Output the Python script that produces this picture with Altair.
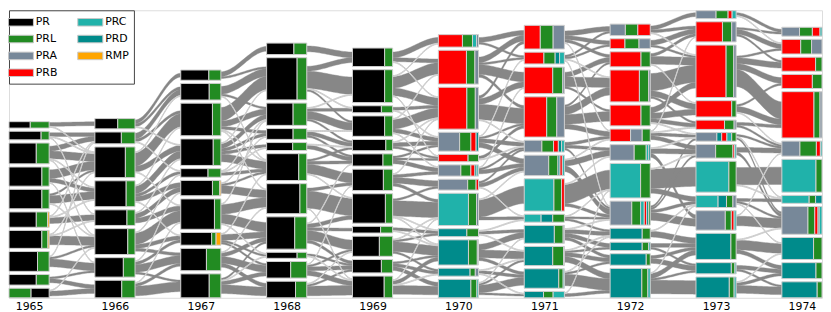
import altair as alt
import pandas as pd

YEARS = ["1965", "1966", "1967", "1968", "1969", "1970", "1971", "1972", "1973", "1974"]
GROUPS = ["PR", "PRL", "PRA", "PRB", "PRC", "PRD", "RMP"]
COLORS = {"PR": "#000000", "PRL": "#228B22", "PRA": "#778899", "PRB": "#FF0000",
          "PRC": "#20B2AA", "PRD": "#008B8B", "RMP": "#FFA500"}

# nodes per year, top to bottom: (size, composition share by group)
N1965 = [(6.7, "PR 53 PRL 47"), (9.0, "PR 80 PRL 20"), (21.7, "PR 68 PRL 32"),
         (20.0, "PR 82 PRL 18"), (20.3, "PR 82 PRL 18"), (16.0, "PR 68 PRL 28 RMP 4"),
         (18.7, "PR 81 PRL 15 RMP 3"), (20.7, "PR 71 PRL 29"), (11.0, "PR 68 PRL 32"),
         (10.0, "PRL 55 PR 45")]
N1966 = [(10.7, "PR 57 PRL 43"), (12.3, "PR 66 PRL 34"), (32.0, "PR 76 PRL 24"),
         (27.0, "PR 78 PRL 22"), (16.3, "PR 80 PRL 20"), (27.0, "PR 82 PRL 18"),
         (20.3, "PR 71 PRL 29"), (18.3, "PR 67 PRL 33")]
N1967 = [(10.7, "PR 70 PRL 30"), (17.3, "PR 71 PRL 29"), (34.0, "PR 79 PRL 21"),
         (27.7, "PR 81 PRL 19"), (9.0, "PR 68 PRL 32"), (16.0, "PR 79 PRL 18 RMP 3"),
         (31.7, "PR 84 PRL 16"), (13.3, "PR 77 PRL 11 RMP 12"), (23.3, "PR 64 PRL 36"),
         (25.0, "PR 71 PRL 29")]
N1968 = [(12.0, "PR 68 PRL 32"), (44.0, "PR 76 PRL 24"), (23.3, "PR 66 PRL 34"),
         (11.3, "PR 66 PRL 34"), (8.3, "PR 65 PRL 35"), (28.0, "PR 80 PRL 20"),
         (31.3, "PR 83 PRL 17"), (33.7, "PR 70 PRL 30"), (6.3, "PR 76 PRL 24"),
         (17.3, "PR 60 PRL 40"), (17.3, "PR 72 PRL 28")]
N1969 = [(19.3, "PR 80 PRL 20"), (34.3, "PR 80 PRL 20"), (7.3, "PR 72 PRL 28"),
         (21.3, "PR 80 PRL 20"), (11.7, "PR 83 PRL 17"), (12.7, "PR 76 PRL 24"),
         (22.3, "PR 77 PRL 23"), (30.7, "PR 82 PRL 18"), (7.0, "PR 70 PRL 30"),
         (21.0, "PR 67 PRL 33"), (14.0, "PR 72 PRL 28"), (22.7, "PR 79 PRL 21")]
N1970 = [(13.0, "PRB 60 PRL 25 PRC 10 PRA 5"), (35.3, "PRB 70 PRL 21 PRA 9"),
         (43.7, "PRB 71 PRL 21 PRA 8"), (19.7, "PRA 53 PRL 28 PRB 13 PRD 6"),
         (7.7, "PRB 74 PRL 26"), (11.7, "PRA 56 PRL 25 PRB 10 PRD 5 PRC 4"),
         (11.3, "PRA 73 PRL 21 PRB 6"), (33.7, "PRC 75 PRL 20 PRA 5"),
         (8.3, "PRD 71 PRL 29"), (26.3, "PRD 75 PRL 22 PRA 3"),
         (8.3, "PRD 79 PRL 13 PRA 8"), (19.3, "PRD 81 PRL 15 PRC 4")]
N1971 = [(24.7, "PRB 40 PRL 32 PRA 28"), (12.3, "PRB 49 PRL 28 PRD 11 PRC 12"),
         (27.7, "PRB 71 PRL 25 PRA 4"), (42.0, "PRB 56 PRL 25 PRA 19"),
         (12.3, "PRA 44 PRL 29 PRB 12 PRD 8 PRC 7"), (21.3, "PRA 61 PRL 23 PRD 5 PRB 6 PRC 5"),
         (33.7, "PRC 74 PRL 19 PRB 7"), (8.3, "PRC 42 PRD 29 PRL 29"),
         (18.7, "PRD 75 PRL 22 PRA 3"), (20.0, "PRD 71 PRL 27 PRA 2"),
         (20.3, "PRD 86 PRL 11 PRC 3"), (6.7, "PRD 48 PRL 24 PRC 28")]
N1972 = [(12.0, "PRA 38 PRL 31 PRB 31"), (10.3, "PRB 37 PRL 35 PRA 28"),
         (15.7, "PRB 77 PRL 23"), (33.3, "PRB 73 PRL 23 PRA 4"), (21.7, "PRB 77 PRL 23"),
         (13.0, "PRB 51 PRA 29 PRL 20"), (16.3, "PRA 60 PRL 30 PRC 6 PRD 4"),
         (36.0, "PRC 76 PRL 24"), (25.0, "PRA 54 PRL 22 PRC 9 PRB 6 PRD 5 PRL 4"),
         (11.3, "PRD 80 PRL 20"), (8.7, "PRD 80 PRL 16 PRC 4"), (12.0, "PRD 90 PRL 10"),
         (30.7, "PRD 79 PRL 15 PRC 6")]
N1973 = [(8.3, "PRA 50 PRL 30 PRB 10 PRC 10"), (21.0, "PRB 66 PRL 23 PRA 11"),
         (54.7, "PRB 75 PRL 19 PRA 6"), (17.0, "PRB 89 PRL 11"),
         (9.7, "PRB 71 PRL 24 PRA 5"), (9.0, "PRA 52 PRD 12 PRB 13 PRC 12 PRL 11"),
         (14.3, "PRA 49 PRL 43 PRB 4 PRC 4"), (32.3, "PRC 82 PRL 18"),
         (12.7, "PRC 55 PRD 21 PRL 16 PRA 8"), (20.3, "PRA 73 PRL 15 PRB 7 PRC 5"),
         (27.3, "PRD 87 PRL 13"), (11.7, "PRD 88 PRL 9 PRC 3"),
         (21.7, "PRD 83 PRL 12 PRC 5")]
N1974 = [(9.3, "PRA 44 PRL 32 PRB 19 PRC 5"), (15.3, "PRB 47 PRL 27 PRA 26"),
         (14.7, "PRB 84 PRL 16"), (14.7, "PRB 76 PRL 24"), (48.3, "PRB 80 PRL 15 PRA 5"),
         (15.7, "PRA 45 PRL 41 PRB 10 PRC 4"), (34.3, "PRC 85 PRL 15"),
         (8.3, "PRC 68 PRL 16 PRD 16"), (29.0, "PRA 65 PRL 17 PRB 8 PRD 3 PRC 7"),
         (23.0, "PRD 79 PRL 21"), (16.7, "PRD 85 PRL 15"), (16.7, "PRD 88 PRL 12")]

# flows between consecutive years: (source node, target node, size), 1-based from top
F0 = [(1,1,4),(1,3,1),(2,2,4),(2,3,1),(2,5,1),(3,2,5),(3,3,8),(3,4,1),(3,6,1),(4,3,9),(4,4,4),(4,7,1),
      (5,3,2),(5,4,8),(5,6,1),(6,2,1),(6,4,1),(6,5,6),(7,3,1),(7,5,1),(7,6,9),(8,2,1),(8,6,2),(8,7,8),
      (9,7,2),(9,8,4),(10,6,1),(10,8,5)]
F1 = [(1,1,4),(1,2,3),(1,4,1),(2,2,6),(2,3,3),(2,5,1),(3,2,1),(3,3,14),(3,4,6),(3,7,1),(4,3,1),(4,4,8),
      (4,5,3),(4,6,5),(4,8,1),(5,4,1),(5,6,5),(5,7,5),(6,5,1),(6,7,12),(6,8,4),(6,9,3),(7,6,1),(7,8,3),
      (7,9,8),(7,10,2),(8,7,1),(8,9,3),(8,10,10)]
F2 = [(1,1,5),(1,2,2),(2,2,8),(2,3,2),(2,6,1),(3,2,14),(3,3,6),(3,4,3),(3,6,1),(3,7,1),(4,2,1),(4,3,5),
      (4,4,3),(4,5,3),(4,6,8),(5,3,1),(5,5,1),(5,6,3),(6,4,1),(6,6,2),(6,7,8),(7,3,1),(7,7,10),(7,8,10),
      (7,9,1),(8,6,1),(8,8,6),(8,9,2),(8,10,2),(9,7,1),(9,8,4),(9,10,7),(9,11,4),(10,8,2),(10,9,1),
      (10,10,4),(10,11,9)]
F3 = [(1,1,6),(2,1,5),(2,2,18),(2,3,1),(2,4,2),(3,2,1),(3,3,3),(3,4,8),(3,5,2),(4,4,1),(4,5,4),(4,6,2),
      (5,5,1),(5,6,4),(6,5,2),(6,6,3),(6,7,10),(6,8,1),(7,7,3),(7,8,18),(7,12,1),(8,6,1),(8,8,4),(8,9,3),
      (8,10,10),(8,11,3),(9,11,2),(9,12,1),(10,7,1),(10,10,2),(10,11,4),(10,12,5),(11,10,1),(11,11,2),
      (11,12,10)]
F4 = [(1,1,6),(1,2,4),(1,3,1),(2,1,1),(2,2,12),(2,3,8),(2,5,1),(3,3,3),(3,4,1),(4,2,1),(4,3,10),(4,4,4),
      (4,6,1),(5,3,1),(5,4,4),(5,5,2),(6,4,2),(6,5,2),(6,6,4),(7,3,1),(7,6,3),(7,7,6),(7,8,3),(8,7,2),
      (8,8,16),(8,9,1),(8,10,1),(9,9,3),(9,10,1),(10,8,1),(10,9,2),(10,10,10),(10,11,2),(11,10,2),
      (11,11,3),(11,12,4),(12,8,1),(12,10,4),(12,11,1),(12,12,9)]
F5 = [(1,1,5),(1,2,2),(2,1,6),(2,2,2),(2,3,10),(2,4,3),(3,1,3),(3,3,6),(3,4,16),(3,5,1),(4,2,1),(4,4,2),
      (4,5,4),(4,6,5),(5,4,3),(5,5,1),(6,3,1),(6,5,2),(6,6,4),(7,5,2),(7,6,4),(7,8,1),(8,6,1),(8,7,18),
      (8,8,3),(9,8,1),(9,9,3),(9,10,1),(10,9,6),(10,10,8),(10,11,3),(11,10,1),(11,11,3),(11,12,1),
      (12,9,1),(12,10,2),(12,11,8),(12,12,2)]
F6 = [(1,1,5),(1,2,4),(1,3,3),(1,6,1),(2,1,2),(2,2,2),(2,4,1),(2,9,1),(3,3,5),(3,4,10),(3,5,2),(4,3,2),
      (4,4,8),(4,5,10),(4,6,5),(5,6,3),(5,7,3),(5,9,2),(6,6,1),(6,7,6),(6,9,6),(7,7,1),(7,8,20),(7,9,3),
      (8,8,1),(8,9,2),(8,10,2),(9,9,1),(9,10,4),(9,11,4),(9,12,3),(10,10,1),(10,11,2),(10,12,4),
      (10,13,6),(11,10,1),(11,12,2),(11,13,12),(12,8,1),(12,13,3)]
F7 = [(1,1,4),(1,2,3),(1,3,1),(2,2,5),(2,3,2),(3,2,3),(3,3,8),(3,4,1),(4,3,18),(4,4,6),(4,5,2),(5,3,6),
      (5,4,6),(5,5,4),(5,6,1),(6,2,1),(6,5,1),(6,6,3),(6,7,4),(7,6,1),(7,7,5),(7,10,4),(8,7,1),(8,8,20),
      (8,9,5),(9,6,2),(9,7,2),(9,9,3),(9,10,8),(10,9,1),(10,11,6),(11,11,4),(11,12,2),(12,11,3),
      (12,12,5),(13,9,1),(13,11,5),(13,12,2),(13,13,14)]
F8 = [(1,1,3),(1,2,1),(2,1,2),(2,2,5),(2,3,2),(3,2,2),(3,3,6),(3,4,6),(3,5,18),(4,4,2),(4,5,6),(4,6,1),
      (5,5,3),(5,6,2),(6,6,2),(6,8,1),(6,9,2),(7,6,5),(7,9,3),(8,7,18),(8,8,1),(9,8,3),(9,9,2),(9,10,1),
      (10,6,1),(10,9,10),(11,9,1),(11,10,10),(11,11,4),(12,11,4),(12,12,2),(13,10,1),(13,11,3),
      (13,12,8)]

COLUMNS = [N1965, N1966, N1967, N1968, N1969, N1970, N1971, N1972, N1973, N1974]
GAPS = [F0, F1, F2, F3, F4, F5, F6, F7, F8]

GAP = 3.3      # vertical space between nodes
HW = 0.2338    # half node width in column units

# stack nodes from the bottom
tops, bots = [], []
for nodes in COLUMNS:
    t = [0.0] * len(nodes)
    b = [0.0] * len(nodes)
    y = 0.0
    for j in range(len(nodes) - 1, -1, -1):
        b[j] = y
        t[j] = y + nodes[j][0]
        y = t[j] + GAP
    tops.append(t)
    bots.append(b)

seg_rows = []
for i, nodes in enumerate(COLUMNS):
    for j, (h, mix) in enumerate(nodes):
        tok = mix.split()
        parts = [(tok[k], float(tok[k + 1])) for k in range(0, len(tok), 2)]
        tot = sum(p for _, p in parts)
        cum = 0.0
        for cat, p in parts:
            xa = i - HW + 2 * HW * cum / tot
            cum += p
            xb = i - HW + 2 * HW * cum / tot
            seg_rows.append(dict(x=xa, x2=xb, y=bots[i][j], y2=tops[i][j], cat=cat))
seg_df = pd.DataFrame(seg_rows)

flow_rows = []
fid = 0
for g, flows in enumerate(GAPS):
    fl = [(s - 1, t - 1, v) for s, t, v in flows]
    spos, tpos = {}, {}
    for s in sorted(set(f[0] for f in fl)):
        idx = sorted([k for k, f in enumerate(fl) if f[0] == s], key=lambda k: fl[k][1])
        tot = sum(fl[k][2] for k in idx)
        h = tops[g][s] - bots[g][s]
        cur = tops[g][s] - (h - tot) / 2
        for k in idx:
            spos[k] = (cur, cur - fl[k][2])
            cur -= fl[k][2]
    for t in sorted(set(f[1] for f in fl)):
        idx = sorted([k for k, f in enumerate(fl) if f[1] == t], key=lambda k: fl[k][0])
        tot = sum(fl[k][2] for k in idx)
        h = tops[g + 1][t] - bots[g + 1][t]
        cur = tops[g + 1][t] - (h - tot) / 2
        for k in idx:
            tpos[k] = (cur, cur - fl[k][2])
            cur -= fl[k][2]
    for k, (s, t, v) in enumerate(fl):
        flow_rows.append(dict(fid="f%d" % fid, x0=g + HW, x1=g + 1 - HW,
                              st=spos[k][0], sb=spos[k][1], tt=tpos[k][0], tb=tpos[k][1],
                              kind="light" if v <= 1 else "dark"))
        fid += 1
flow_df = pd.DataFrame(flow_rows)

xscale = alt.Scale(domain=[-HW, 9 + HW], nice=False, zero=False)
yscale = alt.Scale(domain=[0, 300], nice=False, zero=False)
label_expr = "[" + ",".join("'%s'" % y for y in YEARS) + "][datum.value]"
xaxis = alt.Axis(values=list(range(len(YEARS))), labelExpr=label_expr, domain=False, ticks=False,
                 grid=False, title=None, labelFontSize=11, labelColor="black", labelPadding=3,
                 labelFont="DejaVu Sans")

flow_base = alt.Chart(flow_df).transform_calculate(
    t="sequence(0, 1.0001, 0.04)"
).transform_flatten(["t"]).transform_calculate(
    s="datum.t*datum.t*(3-2*datum.t)"
).transform_calculate(
    px="datum.x0+(datum.x1-datum.x0)*datum.t",
    pyb="datum.sb+(datum.tb-datum.sb)*datum.s",
    pyt="datum.st+(datum.tt-datum.st)*datum.s",
)

enc = dict(x=alt.X("px:Q", scale=xscale, axis=xaxis),
           y=alt.Y("pyb:Q", scale=yscale, axis=None, stack=None),
           y2="pyt:Q", detail="fid:N")

dark = flow_base.transform_filter("datum.kind == 'dark'").mark_area(
    color="#878787", stroke="#878787", strokeWidth=0.4, orient="vertical").encode(**enc)
light = flow_base.transform_filter("datum.kind == 'light'").mark_area(
    color="#cdcdcd", stroke="#cdcdcd", strokeWidth=1.0, orient="vertical").encode(**enc)

legend = alt.Legend(title=None, orient="none", legendX=0, legendY=0, columns=2,
                    symbolType="M-2,-0.6H2V0.6H-2Z", symbolSize=160,
                    symbolStrokeColor="#c8c8c8", symbolStrokeWidth=1, symbolOpacity=1,
                    labelFontSize=11, labelFont="DejaVu Sans", labelColor="black",
                    rowPadding=4, columnPadding=18, labelOffset=8, padding=5,
                    strokeColor="#444444", fillColor="white")

nodes = alt.Chart(seg_df).mark_rect(stroke="#cfcfcf", strokeWidth=1).encode(
    x=alt.X("x:Q", scale=xscale, axis=xaxis),
    x2="x2:Q",
    y=alt.Y("y:Q", scale=yscale, axis=None),
    y2="y2:Q",
    color=alt.Color("cat:N", scale=alt.Scale(domain=GROUPS,
                                             range=[COLORS[c] for c in GROUPS]),
                    legend=legend),
)

chart = alt.layer(dark, light, nodes).properties(
    width=820, height=290, padding=0
).configure_view(stroke=None).configure(font="DejaVu Sans")

chart.save("out.html", embed_options={"renderer": "svg", "actions": False})
